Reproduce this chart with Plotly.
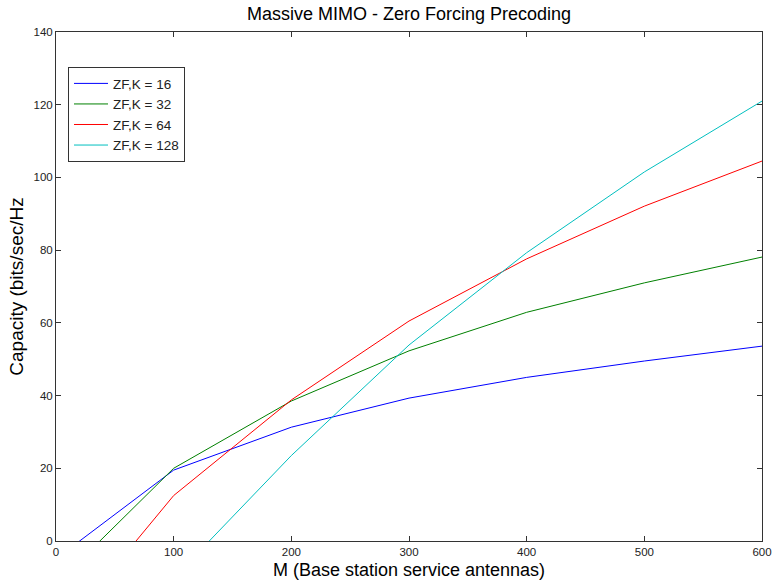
import plotly.graph_objects as go

M = [0, 100, 200, 300, 400, 500, 600]
cap_k16 = [-4.9, 19.5, 31.3, 39.3, 45.0, 49.5, 53.6]
cap_k32 = [-11.9, 20.0, 38.5, 52.3, 62.9, 71.0, 78.1]
cap_k64 = [-26.6, 12.5, 38.8, 60.5, 77.6, 92.1, 104.5]
cap_k128 = [-40.0, -10.2, 23.5, 53.9, 79.3, 101.5, 121.0]
labels = ["ZF,K = 16", "ZF,K = 32", "ZF,K = 64", "ZF,K = 128"]
colors = ["#0000ff", "#008000", "#ff0000", "#00bfbf"]
x_ticks = [0, 100, 200, 300, 400, 500, 600]
y_ticks = [0, 20, 40, 60, 80, 100, 120, 140]

FONT = "Liberation Sans, Arial, Helvetica"

fig = go.Figure()
for ys, name, c in zip([cap_k16, cap_k32, cap_k64, cap_k128], labels, colors):
    fig.add_trace(go.Scatter(x=M, y=ys, mode="lines", name=name,
                             line=dict(color=c, width=1)))

axis_common = dict(showline=True, linecolor="#333333", linewidth=1, mirror="ticks",
                   ticks="inside", ticklen=5, tickcolor="#333333", showgrid=False,
                   zeroline=False, automargin=False, ticklabeloverflow="allow",
                   tickfont=dict(size=11.5, color="#222222", family=FONT))
fig.update_xaxes(range=[0, 600], tickvals=x_ticks,
                 title=dict(text="M (Base station service antennas)",
                            font=dict(size=18, color="black", family=FONT), standoff=6),
                 **axis_common)
fig.update_yaxes(range=[0, 140], tickvals=y_ticks,
                 title=dict(text="Capacity (bits/sec/Hz",
                            font=dict(size=19, color="black", family=FONT), standoff=4),
                 **axis_common)

fig.update_layout(
    width=773, height=580,
    margin=dict(l=56, r=11, t=32, b=39, autoexpand=False),
    paper_bgcolor="white", plot_bgcolor="white",
    font=dict(family=FONT, color="black"),
    title=dict(text="Massive MIMO - Zero Forcing Precoding",
               x=0.5, xanchor="center", xref="paper", y=0.988, yanchor="top",
               font=dict(size=18, color="black", family=FONT)),
    legend=dict(x=0.017, y=0.931, xanchor="left", yanchor="top",
                bgcolor="white", bordercolor="#333333", borderwidth=1,
                font=dict(size=13.5, color="#222222", family=FONT), tracegroupgap=0,
                itemwidth=34),
    showlegend=True,
)

fig.write_html(
    "out.html",
    config={"displayModeBar": False},
    post_script="document.body.style.margin='0';document.body.style.overflow='hidden';",
)
